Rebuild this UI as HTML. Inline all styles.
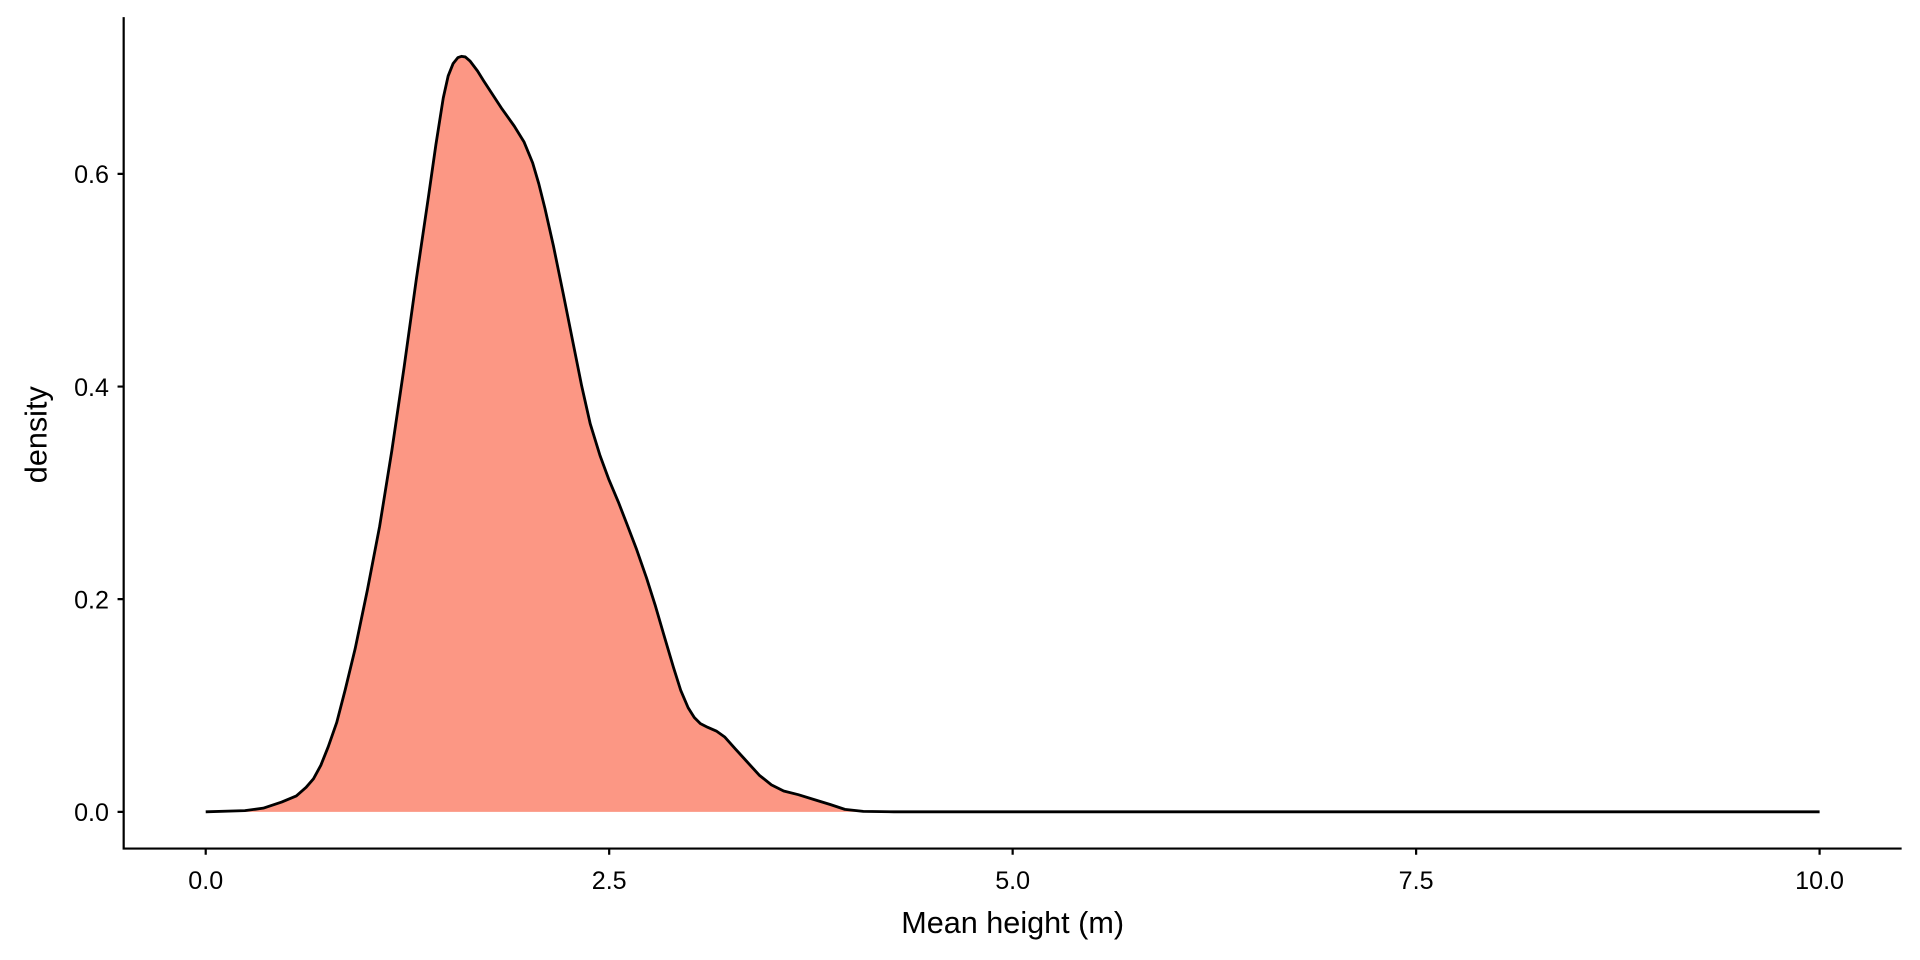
<!DOCTYPE html>
<html><head><style>html,body{margin:0;padding:0;background:#fff;}svg{display:block}</style></head>
<body>
<svg width="1920" height="960" viewBox="0 0 1568 784" preserveAspectRatio="none" xmlns="http://www.w3.org/2000/svg">
<rect width="1568" height="784" fill="#fff"/>
<path d="M168,663 L200,662 L215,660 L230,655 L242,650 L250,643 L256,636 L262,625 L268,610 L275,590 L282,563 L290,530 L300,482 L310,430 L320,368 L330,300 L340,228 L350,160 L356,118 L362,80 L366,62 L370,52 L374,47 L377,46 L380,46.5 L384,50 L390,58 L395,66 L410,89 L420,103 L428,116 L435,133 L440,150 L445,170 L452,201 L460,240 L468,280 L475,315 L482,346 L490,372 L497,391 L505,410 L512,428 L520,449 L528,472 L535,494 L542,518 L550,545 L556,564 L562,578 L567,586 L572,591 L578,594 L585,597 L592,602 L600,611 L610,622 L620,633 L630,641 L640,646 L652,649 L665,653 L678,657 L690,661 L705,662.6 L730,663 L1486,663 Z" fill="#fc9784" stroke="none"/>
<path d="M168,663 L200,662 L215,660 L230,655 L242,650 L250,643 L256,636 L262,625 L268,610 L275,590 L282,563 L290,530 L300,482 L310,430 L320,368 L330,300 L340,228 L350,160 L356,118 L362,80 L366,62 L370,52 L374,47 L377,46 L380,46.5 L384,50 L390,58 L395,66 L410,89 L420,103 L428,116 L435,133 L440,150 L445,170 L452,201 L460,240 L468,280 L475,315 L482,346 L490,372 L497,391 L505,410 L512,428 L520,449 L528,472 L535,494 L542,518 L550,545 L556,564 L562,578 L567,586 L572,591 L578,594 L585,597 L592,602 L600,611 L610,622 L620,633 L630,641 L640,646 L652,649 L665,653 L678,657 L690,661 L705,662.6 L730,663 L1486,663" fill="none" stroke="#000" stroke-width="2.3" stroke-linejoin="round"/>
<g stroke="#000" stroke-width="1.8" fill="none">
<path d="M101,14 L101,693 L1553,693"/>
<path d="M96,663 H101 M96,489.3 H101 M96,315.7 H101 M96,142 H101"/>
<path d="M168,693 V698 M497.5,693 V698 M827,693 V698 M1156.5,693 V698 M1486,693 V698"/>
</g>
<g font-family="Liberation Sans, sans-serif" font-size="20.5" fill="#000">
<g text-anchor="end">
<text x="89" y="670.5">0.0</text>
<text x="89" y="496.8">0.2</text>
<text x="89" y="323.2">0.4</text>
<text x="89" y="149.5">0.6</text>
</g>
<g text-anchor="middle">
<text x="168" y="726">0.0</text>
<text x="497.5" y="726">2.5</text>
<text x="827" y="726">5.0</text>
<text x="1156.5" y="726">7.5</text>
<text x="1486" y="726">10.0</text>
<text x="827" y="762" font-size="25">Mean height (m)</text>
<text transform="translate(38,355) rotate(-90)" font-size="25">density</text>
</g>
</g>
</svg>
</body></html>
